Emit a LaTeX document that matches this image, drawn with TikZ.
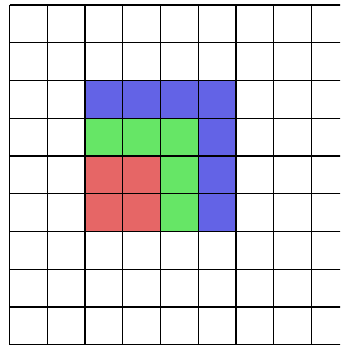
\documentclass[tikz,border=0pt]{standalone}
\definecolor{cellblue}{RGB}{99,99,230}
\definecolor{cellgreen}{RGB}{102,230,102}
\definecolor{cellred}{RGB}{230,102,102}
\begin{document}
\begin{tikzpicture}[
    x=1cm, y=-1cm,
    grid line/.style={draw=black, line width=0.8pt},
    blue cell/.style={fill=cellblue},
    green cell/.style={fill=cellgreen},
    red cell/.style={fill=cellred}
]
\def\n{9}
\useasboundingbox (-0.252, -0.132) rectangle (8.755, 9.007);
\clip (-0.252, -0.132) rectangle (8.755, 9.007);

% Coloured blocks
\foreach \c in {2,...,5} {
    \fill[blue cell] (\c, 2) rectangle (\c+1, 3);
}
\foreach \r in {3,4,5} {
    \fill[blue cell] (5, \r) rectangle (6, \r+1);
}
\foreach \c in {2,3,4} {
    \fill[green cell] (\c, 3) rectangle (\c+1, 4);
}
\foreach \r in {4,5} {
    \fill[green cell] (4, \r) rectangle (5, \r+1);
    \foreach \c in {2,3} {
        \fill[red cell] (\c, \r) rectangle (\c+1, \r+1);
    }
}

% Grid
\draw[grid line] (0, 0) grid (\n.5, \n);
\end{tikzpicture}
\end{document}
